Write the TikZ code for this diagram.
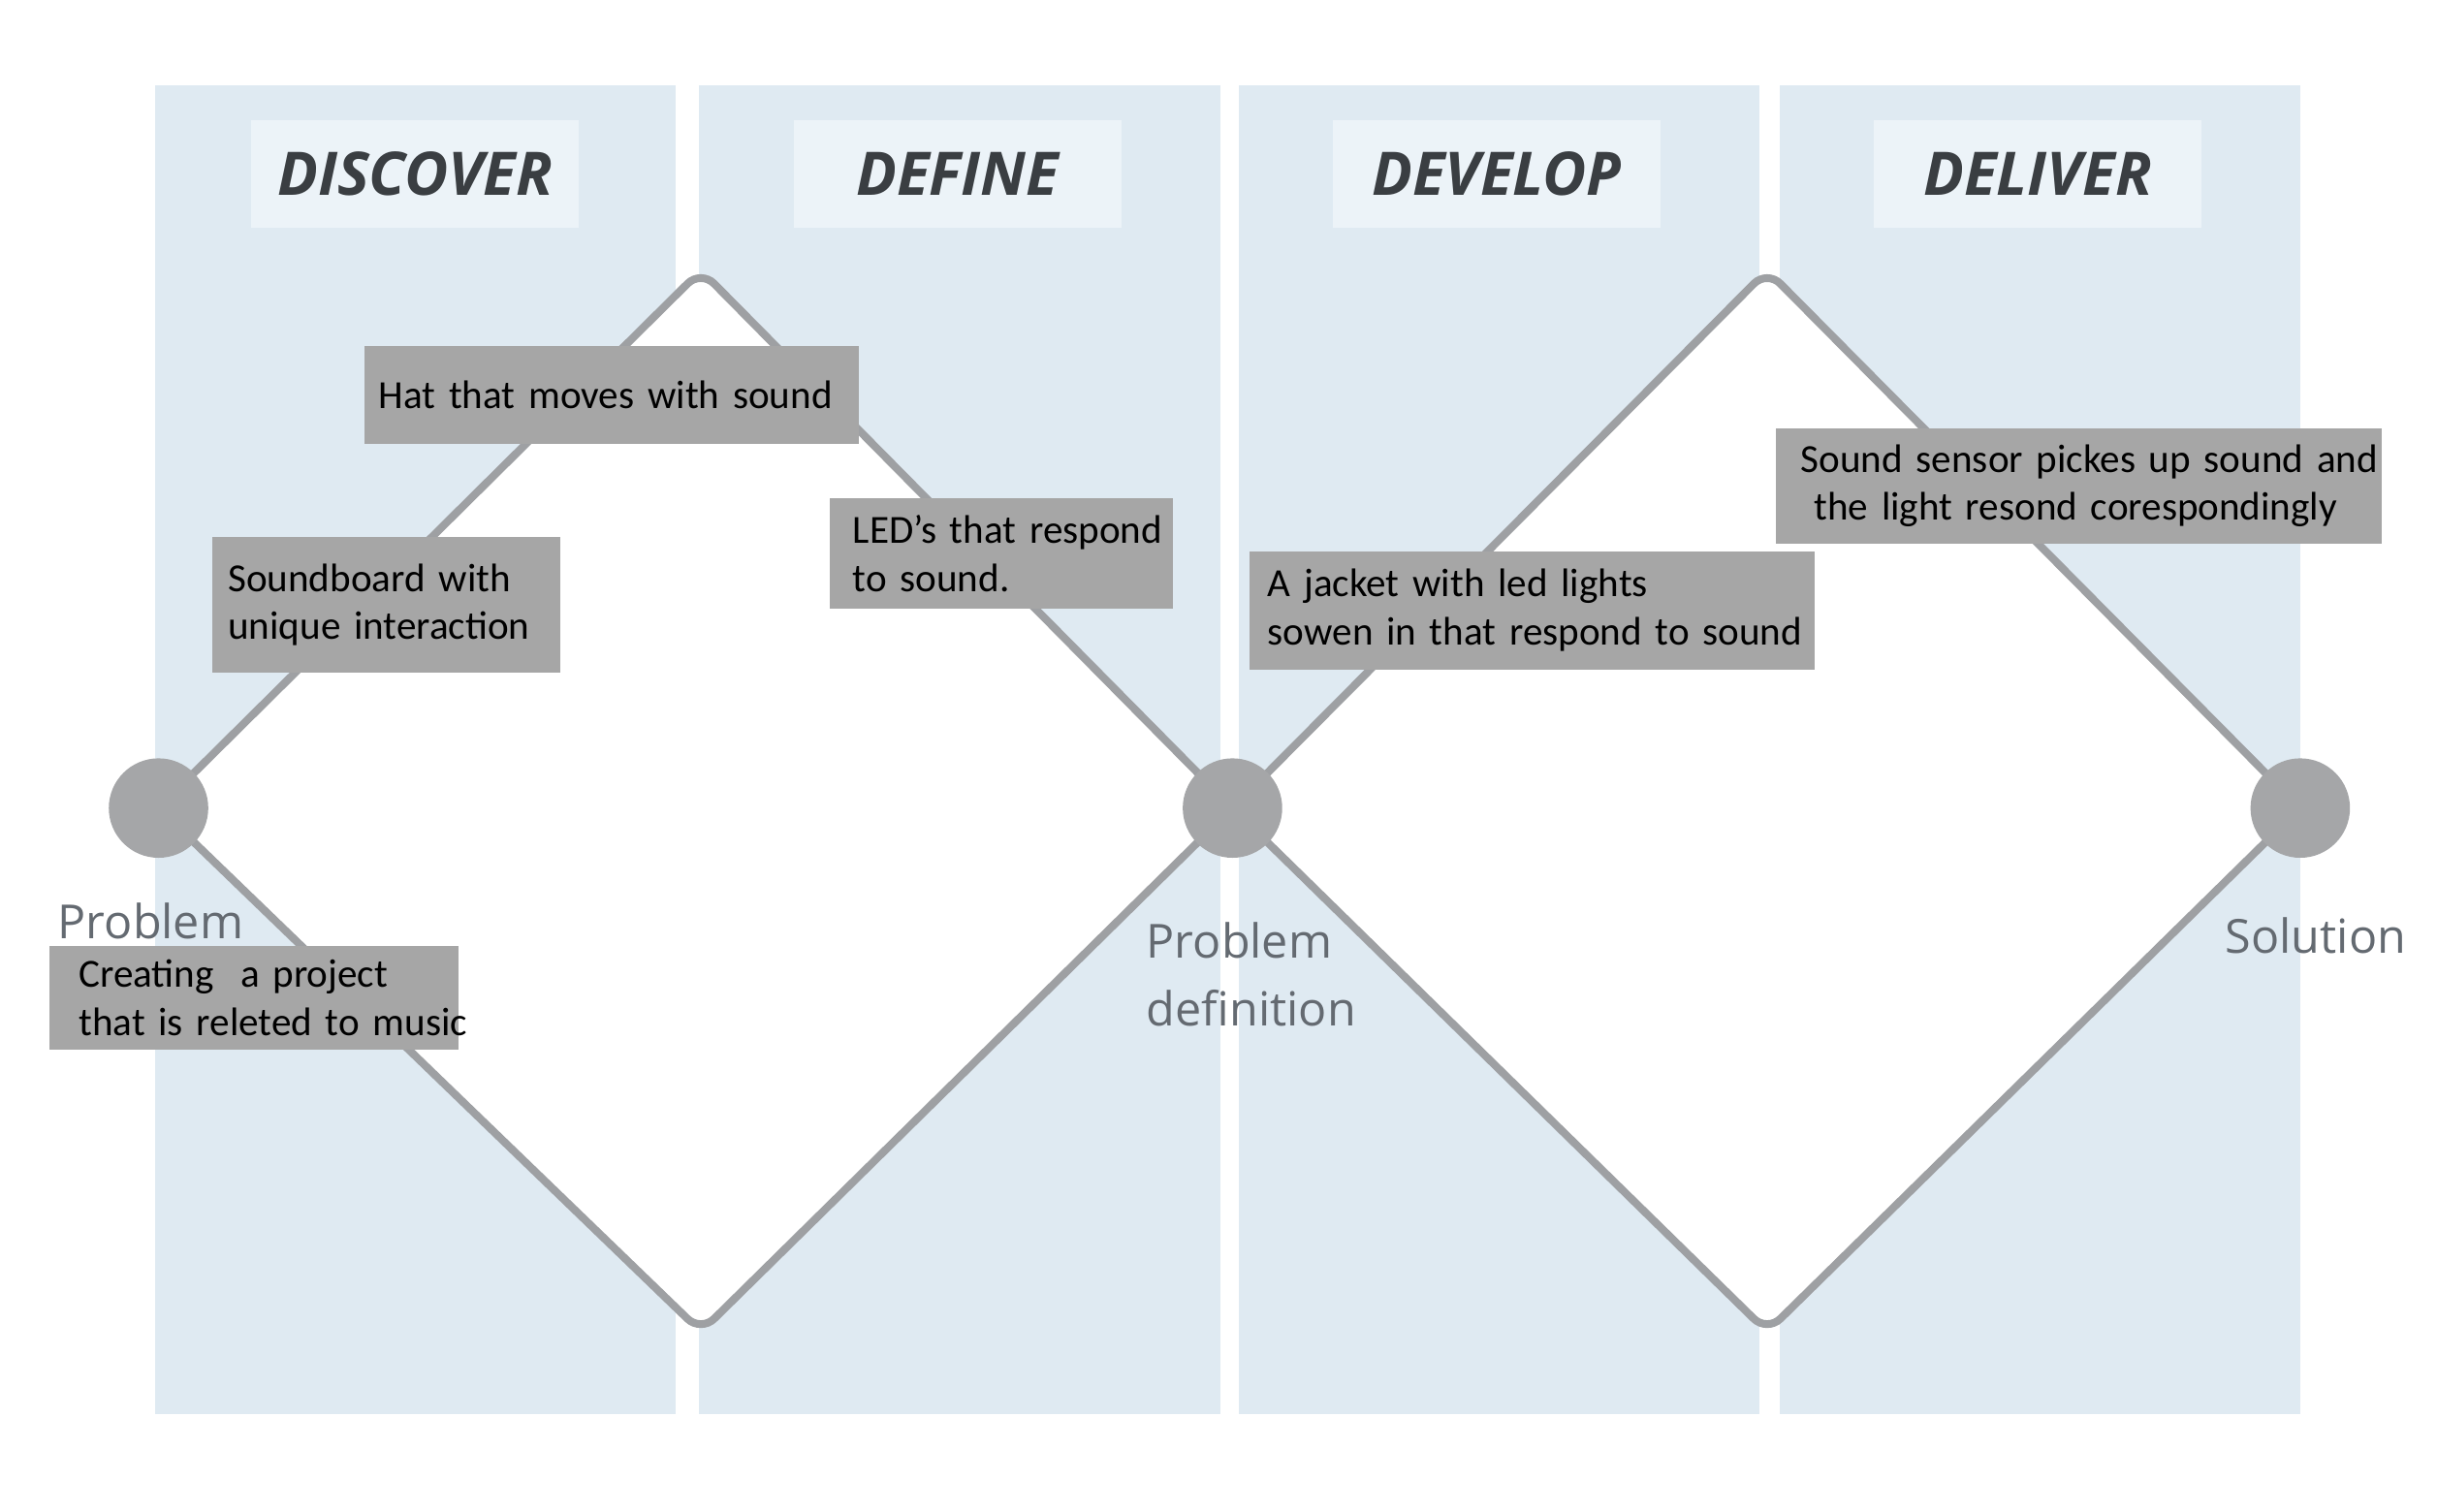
\documentclass[tikz,border=0pt]{standalone}
\usepackage{fontspec}
\setmainfont{Carlito}[WordSpace=0.8]
\newfontfamily\headfont{Open Sans}
\usepackage{tikz}
\usetikzlibrary{positioning}
\definecolor{panelblue}{RGB}{223,234,242}
\definecolor{headblue}{RGB}{236,243,248}
\definecolor{headtext}{RGB}{58,62,66}
\definecolor{linegrey}{RGB}{158,160,163}
\definecolor{dotgrey}{RGB}{165,166,168}
\definecolor{notegrey}{RGB}{166,166,166}
\definecolor{labeltext}{RGB}{100,106,113}

\begin{document}
\begin{tikzpicture}[x=0.1mm, y=-0.1mm,
    panel/.style={fill=panelblue},
    phase/.style={fill=headblue, minimum width=21.1mm, minimum height=6.9mm, text=headtext,
        font=\headfont\fontsize{11}{13}\selectfont\bfseries\itshape},
    dot/.style={circle, fill=dotgrey, minimum size=6.4mm, inner sep=0},
    stage/.style={font=\headfont\fontsize{8.6}{12.5}\selectfont, text=labeltext, align=left, inner sep=0},
    route/.style={draw=linegrey, line width=0.5mm, rounded corners=1.2mm, fill=white},
    note/.style={fill=notegrey, inner xsep=0, inner ysep=0, align=left, anchor=north west,
        font=\fontsize{7.3}{8.8}\selectfont, execute at begin node={\leftskip=#1}}]

    \useasboundingbox (0,0) rectangle (1568,973);

    % Columns
    \foreach \x in {100,450,797,1145}
        \fill[panel] (\x,55) rectangle ++(335,855);

    % Phase titles
    \node[phase] (discover) at (267,112) {DISCOVER};
    \node[phase] (define) at (616,112) {DEFINE};
    \node[phase] (develop) at (963,112) {DEVELOP};
    \node[phase] (deliver) at (1311,112) {DELIVER};

    % Double diamond
    \coordinate (start) at (102,520);
    \coordinate (middle) at (793,520);
    \coordinate (finish) at (1480,520);
    \coordinate (top1) at (451,174);
    \coordinate (bottom1) at (451,857);
    \coordinate (top2) at (1137,174);
    \coordinate (bottom2) at (1137,857);
    \draw[route] (start) -- (top1) -- (middle) -- (bottom1) -- cycle;
    \draw[route] (middle) -- (top2) -- (finish) -- (bottom2) -- cycle;

    \node[dot] (problem) at (start) {};
    \node[dot] (definition) at (middle) {};
    \node[dot] (solution) at (finish) {};

    \node[stage] (problemtext) at (97,593) {Problem};
    \node[stage, anchor=west] (definitiontext) at (737,627) {Problem\\definition};
    \node[stage] (solutiontext) at (1490,602) {Solution};

    % Ideas
    \node[note=0.9mm, text width=31.8mm, minimum height=6.3mm] (hat) at (234,222)
        {Hat that moves with sound};
    \node[note=1mm, text width=22.4mm, minimum height=8.7mm] (soundboard) at (136,345)
        {Soundboard with\\unique interaction};
    \node[note=1.5mm, text width=22.1mm, minimum height=7.1mm] (leds) at (533,320)
        {\mbox{LED’s that respond}\\to sound.};
    \node[note=1.9mm, text width=26.3mm, minimum height=6.7mm] (project) at (31,608)
        {Creating~ a project\\\mbox{that is releted to music}};
    \node[note=1.2mm, text width=36.4mm, minimum height=7.6mm] (jacket) at (803,354)
        {A jacket with led lights\\\mbox{sowen in that respond to sound}};
    \node[note=1.6mm, text width=39mm, minimum height=7.4mm] (sensor) at (1142,275)
        {\mbox{Sound sensor pickes up sound and}\\~the light resond corespondingly};
\end{tikzpicture}
\end{document}
